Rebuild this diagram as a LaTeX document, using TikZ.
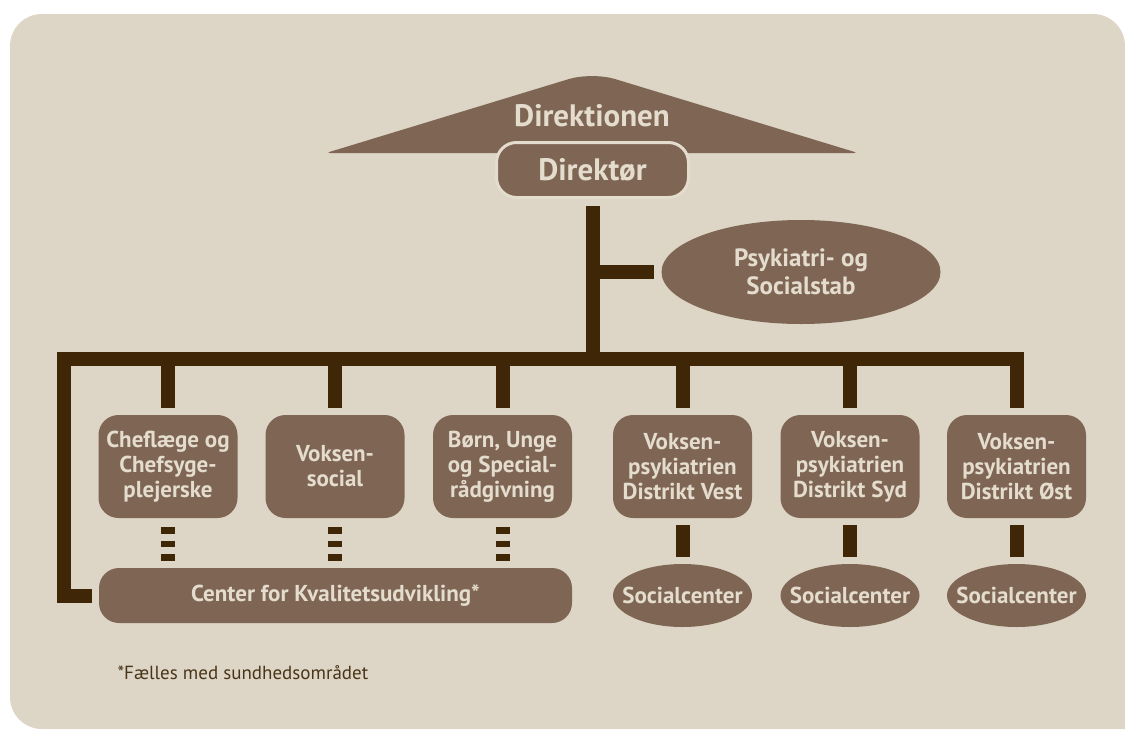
\documentclass[tikz,border=0pt]{standalone}
\usepackage{fontspec}
\setmainfont{PT Sans}
\usetikzlibrary{shapes.geometric}
\definecolor{pagebg}{HTML}{DDD6C6}
\definecolor{unitfill}{HTML}{7F6654}
\definecolor{unittext}{HTML}{E4DCCD}
\definecolor{linkline}{HTML}{3E2607}
\definecolor{notetext}{HTML}{4A3518}

\begin{document}
\begin{tikzpicture}[x=1pt,y=-1pt,
  unit/.style={fill=unitfill,text=unittext,rounded corners=20pt,align=center,inner sep=0pt,font=\fontsize{23}{25}\selectfont\bfseries},
  dept/.style={unit,minimum width=139pt,minimum height=103pt},
  centre/.style={ellipse,fill=unitfill,text=unittext,align=center,inner xsep=-14pt,inner ysep=-4pt,font=\fontsize{23}{25}\selectfont\bfseries},
  social/.style={centre,minimum width=139pt,minimum height=63pt},
  link/.style={draw=linkline,line width=14pt,line join=miter,shorten <=7pt,shorten >=7pt},
  dashlink/.style={link,dash pattern=on 6.5pt off 7pt,shorten <=9pt}
]
\useasboundingbox (0,0) rectangle (1125,729);
\fill[white] (0,0) rectangle (1125,729);
\fill[pagebg] (560,729) -- (1125,729) -- (1125,400) [rounded corners=32pt] -- (1125,14) -- (10,14) -- (10,729) -- (560,729);
\fill[pagebg] (600,400) rectangle (1125,729);
% top of the tree
\fill[unitfill] (592,153) [rounded corners=4pt] -- (326,153) [rounded corners=24pt] -- (592,72) [rounded corners=4pt] -- (858,153) [sharp corners] -- (592,153) -- cycle;
\node[text=unittext,font=\fontsize{31}{34}\selectfont\bfseries] (direktionen) at (592,116) {Direktionen};
\node[unit,draw=unittext,line width=3pt,minimum width=192pt,minimum height=55pt,font=\fontsize{31}{34}\selectfont\bfseries] (direktor) at (592.5,170) {Direktør};
\node[centre,minimum width=279pt,minimum height=104pt,font=\fontsize{25}{28}\selectfont\bfseries] (stab) at (801,272) {Psykiatri- og\\Socialstab};
% departments
\node[dept] (cheflaege) at (168,466.5) {Cheflæge og\\Chefsyge-\\plejerske};
\node[dept] (voksensocial) at (335,466.5) {Voksen-\\social};
\node[dept] (boern) at (502.5,466.5) {Børn, Unge\\og Special-\\rådgivning};
\node[dept] (distvest) at (682.5,466.5) {Voksen-\\psykiatrien\\Distrikt Vest};
\node[dept] (distsyd) at (850,466.5) {Voksen-\\psykiatrien\\Distrikt Syd};
\node[dept] (distoest) at (1016.5,466.5) {Voksen-\\psykiatrien\\Distrikt Øst};
\node[unit,minimum width=473pt,minimum height=55pt] (kvalitet) at (335.5,595.5) {Center for Kvalitetsudvikling*};
\node[social] (vestsoc) at (682.5,595.5) {Socialcenter};
\node[social] (sydsoc) at (850,595.5) {Socialcenter};
\node[social] (oestsoc) at (1016.5,595.5) {Socialcenter};
\node[anchor=west,text=notetext,font=\fontsize{19}{22}\selectfont] (note) at (114,673) {*Fælles med sundhedsområdet};
% connectors
\coordinate (barL) at (64,358.5);
\coordinate (barR) at (1016.5,358.5);
\draw[link,shorten >=0pt] (direktor.south) -- (direktor.south |- barL);
\draw[link,shorten <=0pt] (direktor.south |- stab) -- (stab.west);
\draw[link] (kvalitet.west) -- (barL |- kvalitet) -- (barL) -- (barR) -- (distoest.north);
\foreach \n in {cheflaege,voksensocial,boern,distvest,distsyd}
  \draw[link,shorten <=0pt] (\n.north |- barL) -- (\n.north);
\foreach \n in {cheflaege,voksensocial,boern}
  \draw[dashlink] (\n.south) -- (\n.south |- kvalitet.north);
\draw[link] (distvest.south) -- (vestsoc.north);
\draw[link] (distsyd.south) -- (sydsoc.north);
\draw[link] (distoest.south) -- (oestsoc.north);
\end{tikzpicture}
\end{document}
